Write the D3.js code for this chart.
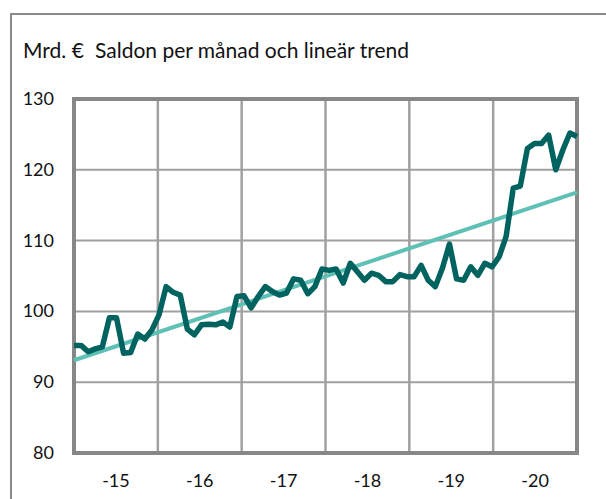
<!doctype html>
<html>
  <head>
    <script src="https://cdn.jsdelivr.net/npm/d3@7/dist/d3.min.js"></script>
    <style>
      body, html {
        margin: 0;
        background: #fff;
      }
      svg {
        display: block;
      }
      text {
        font-family: Lato, "Open Sans", sans-serif;
        fill: #111;
      }
      .grid line {
        stroke: #a0a0a0;
      }
      path.saldo {
        fill: none;
        stroke: #00635f;
        stroke-width: 5.5px;
        stroke-linejoin: round;
      }
      path.trend {
        fill: none;
        stroke: #5fc0b6;
        stroke-width: 4px;
      }
    </style>
  </head>
  <body>
    <svg width="606" height="499"></svg>
    <script>

      // monthly balances 2015-01 .. 2020-12, bn EUR
      var saldo = [
        95.2, 95.2, 94.3, 94.7, 95.0, 99.1, 99.1, 94.1, 94.2, 96.8, 96.1, 97.4,
        99.5, 103.5, 102.7, 102.3, 97.5, 96.7, 98.1, 98.2, 98.1, 98.5, 97.8, 102.1,
        102.2, 100.5, 102.1, 103.5, 102.8, 102.3, 102.6, 104.6, 104.4, 102.5, 103.5, 106.0,
        105.8, 106.0, 104.0, 106.8, 105.6, 104.4, 105.4, 105.1, 104.2, 104.2, 105.2, 104.9,
        104.9, 106.5, 104.4, 103.5, 106.1, 109.5, 104.6, 104.4, 106.3, 105.1, 106.8, 106.3,
        107.7, 110.6, 117.4, 117.7, 123.0, 123.7, 123.7, 124.9, 120.0, 122.8, 125.2, 124.7
      ];
      // linear trend, first and last month
      var trend = [93.1, 116.8];
      var years = ["-15", "-16", "-17", "-18", "-19", "-20"];
      var yTicks = [80, 90, 100, 110, 120, 130];

      var svg = d3.select("svg");
      var pLeft = 74, pRight = 577, pTop = 99, pBottom = 453;

      var x = d3.scaleLinear().domain([0, 71]).range([pLeft, pRight]);
      var xYear = d3.scaleLinear().domain([0, years.length]).range([pLeft, pRight]);
      var y = d3.scaleLinear().domain([80, 130]).range([pBottom, pTop]);

      // outer frame
      svg.append("path")
        .attr("d", "M11,499V14H606")
        .attr("fill", "none")
        .attr("stroke", "#8a8a8a")
        .attr("stroke-width", 2);

      svg.append("text")
        .attr("x", 23).attr("y", 58)
        .style("font-size", "21px")
        .text("Mrd. €");
      svg.append("text")
        .attr("x", 95).attr("y", 58)
        .style("font-size", "21px")
        .text("Saldon per månad och lineär trend");

      var grid = svg.append("g").attr("class", "grid");
      grid.selectAll("line.h")
        .data(yTicks.slice(1, -1))
        .enter().append("line")
        .attr("x1", pLeft).attr("x2", pRight)
        .attr("y1", d => y(d)).attr("y2", d => y(d))
        .attr("stroke-width", 2);
      grid.selectAll("line.v")
        .data(d3.range(1, years.length))
        .enter().append("line")
        .attr("x1", d => xYear(d)).attr("x2", d => xYear(d))
        .attr("y1", pTop).attr("y2", pBottom)
        .attr("stroke", "#929292")
        .attr("stroke-width", 2.5);

      svg.append("rect")
        .attr("x", pLeft).attr("y", pTop)
        .attr("width", pRight - pLeft).attr("height", pBottom - pTop)
        .attr("fill", "none")
        .attr("stroke", "#878787")
        .attr("stroke-width", 4);

      svg.selectAll("text.ylab")
        .data(yTicks)
        .enter().append("text")
        .attr("class", "ylab")
        .attr("x", 54)
        .attr("y", d => y(d) + 6)
        .attr("text-anchor", "end")
        .style("font-size", "18px")
        .text(d => d);

      svg.selectAll("text.xlab")
        .data(years)
        .enter().append("text")
        .attr("class", "xlab")
        .attr("x", (d, i) => xYear(i + 0.5))
        .attr("y", 487)
        .attr("text-anchor", "middle")
        .style("font-size", "18px")
        .text(d => d);

      svg.append("path")
        .attr("class", "trend")
        .attr("d", d3.line()
          .x((d, i) => x(i * 71))
          .y(d => y(d))(trend));

      svg.append("path")
        .attr("class", "saldo")
        .attr("d", d3.line()
          .x((d, i) => x(i))
          .y(d => y(d))(saldo));

    </script>
  </body>
</html>
